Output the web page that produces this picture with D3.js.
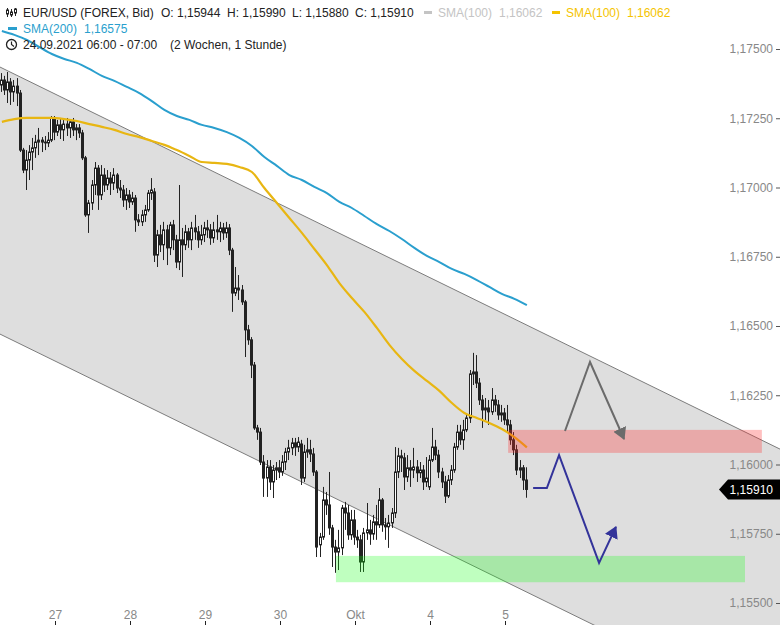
<!DOCTYPE html>
<html><head><meta charset="utf-8">
<script src="https://cdn.jsdelivr.net/npm/d3@7"></script>
<style>body{margin:0;background:#fff}svg{display:block;font-family:"Liberation Sans",Arial,sans-serif}</style>
</head><body><svg id="c" width="780" height="625"></svg>
<script>
// ---- data (hourly EUR/USD candles, 24.09.2021 06:00 -> 05.10.2021 07:00) ----
const opens=[
1.17370,1.17388,1.17352,1.17381,1.17345,1.17366,1.17341,1.17135,1.17063,1.17099,
1.17128,1.17143,1.17164,1.17171,1.17164,1.17161,1.17171,1.17251,1.17200,1.17226,
1.17208,1.17229,1.17215,1.17237,1.17208,1.17215,1.17197,1.17107,1.16901,1.16944,
1.17009,1.17070,1.16973,1.17045,1.17009,1.17034,1.17016,1.17045,1.16998,1.16991,
1.16955,1.16973,1.16948,1.16962,1.16883,1.16876,1.16901,1.16919,1.16980,1.16984,
1.16756,1.16829,1.16793,1.16847,1.16782,1.16865,1.16811,1.16731,1.16811,1.16793,
1.16840,1.16811,1.16854,1.16840,1.16811,1.16829,1.16854,1.16847,1.16818,1.16847,
1.16840,1.16854,1.16836,1.16854,1.16774,1.16619,1.16637,1.16630,1.16587,1.16486,
1.16450,1.16359,1.16132,1.16117,1.16009,1.15951,1.15991,1.15937,1.15980,1.15988,
1.15973,1.16009,1.16045,1.16060,1.16078,1.16063,1.16074,1.15951,1.16045,1.16053,
1.16038,1.15973,1.15710,1.15738,1.15872,1.15854,1.15771,1.15702,1.15684,1.15699,
1.15843,1.15825,1.15746,1.15800,1.15738,1.15728,1.15648,1.15753,1.15764,1.15749,
1.15793,1.15782,1.15872,1.15782,1.15775,1.15789,1.15825,1.15973,1.16031,1.16024,
1.15955,1.15988,1.15980,1.15991,1.15970,1.15980,1.15937,1.15919,1.16016,1.16063,
1.16034,1.15973,1.15937,1.15886,1.15944,1.15980,1.16063,1.16117,1.16089,1.16125,
1.16168,1.16327,1.16334,1.16294,1.16233,1.16197,1.16204,1.16190,1.16233,1.16215,
1.16179,1.16186,1.16161,1.16143,1.16089,1.16053,1.15980,1.15988,1.15944];
const highs=[
1.17413,1.17403,1.17417,1.17395,1.17388,1.17395,1.17352,1.17143,1.17135,1.17153,
1.17179,1.17190,1.17215,1.17182,1.17186,1.17200,1.17258,1.17258,1.17244,1.17251,
1.17244,1.17251,1.17247,1.17251,1.17229,1.17229,1.17208,1.17114,1.16955,1.17027,
1.17092,1.17081,1.17081,1.17070,1.17063,1.17056,1.17070,1.17052,1.17027,1.17009,
1.16998,1.16991,1.16984,1.16973,1.16904,1.16919,1.16937,1.16991,1.17034,1.16998,
1.16847,1.16865,1.16876,1.16865,1.16876,1.16883,1.16829,1.17009,1.16854,1.16865,
1.16854,1.16876,1.16901,1.16861,1.16865,1.16876,1.16883,1.16868,1.16876,1.16901,
1.16876,1.16872,1.16876,1.16868,1.16782,1.16713,1.16684,1.16648,1.16594,1.16504,
1.16460,1.16370,1.16143,1.16132,1.16034,1.16016,1.16016,1.15998,1.16009,1.16016,
1.16034,1.16060,1.16089,1.16096,1.16096,1.16099,1.16089,1.16071,1.16096,1.16089,
1.16060,1.15980,1.15753,1.15919,1.15901,1.15973,1.15782,1.15728,1.15764,1.15854,
1.15865,1.15854,1.15836,1.15836,1.15764,1.15746,1.15771,1.15861,1.15800,1.15818,
1.15854,1.15915,1.15879,1.15807,1.15818,1.15843,1.16063,1.16060,1.16053,1.16042,
1.16034,1.16016,1.16060,1.16016,1.16009,1.15998,1.16027,1.16034,1.16132,1.16089,
1.16053,1.15988,1.15959,1.15962,1.15998,1.16078,1.16143,1.16143,1.16161,1.16179,
1.16341,1.16403,1.16395,1.16312,1.16251,1.16240,1.16233,1.16276,1.16251,1.16233,
1.16215,1.16204,1.16215,1.16161,1.16117,1.16071,1.16016,1.15998,1.15990];
const lows=[
1.17345,1.17334,1.17305,1.17298,1.17309,1.17294,1.17128,1.17052,1.16991,1.17027,
1.17063,1.17107,1.17117,1.17128,1.17135,1.17146,1.17164,1.17171,1.17186,1.17175,
1.17168,1.17186,1.17179,1.17186,1.17171,1.17179,1.17099,1.16894,1.16836,1.16919,
1.16973,1.16919,1.16955,1.16984,1.16991,1.16973,1.16991,1.16980,1.16962,1.16930,
1.16919,1.16926,1.16937,1.16840,1.16861,1.16861,1.16876,1.16912,1.16955,1.16731,
1.16713,1.16767,1.16738,1.16720,1.16756,1.16774,1.16709,1.16702,1.16677,1.16774,
1.16782,1.16774,1.16811,1.16782,1.16793,1.16803,1.16818,1.16793,1.16800,1.16811,
1.16803,1.16811,1.16818,1.16756,1.16551,1.16608,1.16594,1.16576,1.16388,1.16432,
1.16312,1.16125,1.16089,1.15998,1.15883,1.15883,1.15908,1.15879,1.15944,1.15951,
1.15959,1.15980,1.16016,1.16034,1.16031,1.16045,1.15926,1.15937,1.16024,1.16009,
1.15959,1.15666,1.15666,1.15728,1.15818,1.15746,1.15630,1.15609,1.15619,1.15673,
1.15764,1.15728,1.15728,1.15710,1.15699,1.15612,1.15612,1.15728,1.15710,1.15728,
1.15728,1.15771,1.15757,1.15728,1.15699,1.15771,1.15807,1.15951,1.15973,1.15908,
1.15937,1.15919,1.15951,1.15937,1.15951,1.15908,1.15919,1.15908,1.16009,1.16016,
1.15951,1.15915,1.15861,1.15879,1.15926,1.15970,1.16053,1.16071,1.16053,1.16117,
1.16150,1.16287,1.16276,1.16215,1.16132,1.16161,1.16143,1.16179,1.16190,1.16161,
1.16154,1.16143,1.16117,1.16071,1.16034,1.15962,1.15951,1.15908,1.15880];
const closes=[
1.17388,1.17352,1.17381,1.17345,1.17366,1.17341,1.17135,1.17063,1.17099,1.17128,
1.17143,1.17164,1.17171,1.17164,1.17161,1.17171,1.17251,1.17200,1.17226,1.17208,
1.17229,1.17215,1.17237,1.17208,1.17215,1.17197,1.17107,1.16901,1.16944,1.17009,
1.17070,1.16973,1.17045,1.17009,1.17034,1.17016,1.17045,1.16998,1.16991,1.16955,
1.16973,1.16948,1.16962,1.16883,1.16876,1.16901,1.16919,1.16980,1.16991,1.16756,
1.16829,1.16793,1.16847,1.16782,1.16865,1.16811,1.16731,1.16811,1.16793,1.16840,
1.16811,1.16854,1.16840,1.16811,1.16829,1.16854,1.16847,1.16818,1.16847,1.16840,
1.16854,1.16836,1.16854,1.16774,1.16619,1.16637,1.16630,1.16587,1.16486,1.16450,
1.16359,1.16132,1.16117,1.16009,1.15951,1.15991,1.15937,1.15980,1.15988,1.15973,
1.16009,1.16045,1.16060,1.16078,1.16063,1.16081,1.15951,1.16045,1.16053,1.16038,
1.15973,1.15702,1.15738,1.15872,1.15854,1.15771,1.15702,1.15684,1.15699,1.15843,
1.15825,1.15746,1.15800,1.15738,1.15728,1.15648,1.15753,1.15764,1.15749,1.15793,
1.15782,1.15872,1.15782,1.15775,1.15789,1.15825,1.15973,1.16031,1.16024,1.15955,
1.15988,1.15980,1.15991,1.15970,1.15980,1.15937,1.15951,1.16016,1.16063,1.16034,
1.15973,1.15937,1.15886,1.15944,1.15980,1.16063,1.16117,1.16089,1.16125,1.16168,
1.16327,1.16334,1.16294,1.16233,1.16197,1.16204,1.16190,1.16233,1.16215,1.16179,
1.16186,1.16161,1.16143,1.16089,1.16053,1.15980,1.15988,1.15944,1.15910];

// moving averages, read at every 4th candle
const smaIdx=[0,4,8,12,16,20,24,28,32,36,40,44,48,52,56,60,64,68,72,76,80,84,88,92,96,100,
104,108,112,116,120,124,128,132,136,140,144,148,152,156,160,164,168];
const sma200=[1.17565,1.17551,1.17533,1.17507,1.17482,1.17464,1.17450,1.17428,1.17403,1.17385,
1.17363,1.17341,1.17312,1.17280,1.17258,1.17244,1.17226,1.17215,1.17200,1.17179,
1.17150,1.17110,1.17078,1.17045,1.17027,1.17002,1.16980,1.16948,1.16926,1.16897,
1.16868,1.16843,1.16814,1.16782,1.16753,1.16731,1.16706,1.16688,1.16666,1.16641,
1.16616,1.16598,1.16575];
const sma100=[1.17237,1.17247,1.17251,1.17251,1.17251,1.17247,1.17240,1.17229,1.17219,1.17208,
1.17193,1.17182,1.17168,1.17154,1.17135,1.17114,1.17092,1.17089,1.17085,1.17074,
1.17056,1.16998,1.16944,1.16890,1.16836,1.16778,1.16720,1.16655,1.16601,1.16551,
1.16493,1.16432,1.16381,1.16338,1.16302,1.16266,1.16222,1.16186,1.16168,1.16150,
1.16128,1.16099,1.16062];

// axis ticks
const xTickIdx=[17,41,65,89,113,137,161];
const xTickLabels=["27","28","29","30","Okt","4","5"];
const yTickValues=[1.155,1.1575,1.16,1.1625,1.165,1.1675,1.17,1.1725,1.175];

// drawings: trend channel, zones, scenario arrows (candle index / price)
const channelIdx=[-1,250];
const channelUpper=[1.17437,1.16050];
const channelLower=[1.16473,1.15086];
const redZoneIdx=[162,243.2], redZonePrice=[1.16042,1.16125];
const greenZoneIdx=[106.9,237.8], greenZonePrice=[1.15575,1.15670];
const greyArrowIdx=[180.2,188.2,199.1], greyArrowPrice=[1.16121,1.16370,1.16092];
const blueArrowIdx=[170,174.4,178.3,191.1,196.5], blueArrowPrice=[1.15915,1.15915,1.16034,1.15645,1.15775];

// ---- scales ----
const svg=d3.select("#c");
const x=d3.scaleLinear().domain([0,168]).range([1.875,526.875]);
const y=d3.scaleLinear().domain([1.155,1.175]).range([603,49]);
const loc=d3.formatLocale({decimal:",",thousands:".",grouping:[3],currency:["","€"]});
const fmt=loc.format(".5f");

svg.append("rect").attr("width",780).attr("height",625).attr("fill","#fff");

// channel fill
const chPts=[[channelIdx[0],channelUpper[0]],[channelIdx[1],channelUpper[1]],[channelIdx[1],channelLower[1]],[channelIdx[0],channelLower[0]]];
svg.append("path").attr("d",d3.line().x(d=>x(d[0])).y(d=>y(d[1]))(chPts)+"Z").attr("fill","#dedede");
[channelUpper,channelLower].forEach(c=>{
  svg.append("line").attr("x1",x(channelIdx[0])).attr("y1",y(c[0])).attr("x2",x(channelIdx[1])).attr("y2",y(c[1]))
   .attr("stroke","#7c7c7c").attr("stroke-width",1);
});

// candles
const candles=closes.map((c,i)=>({i,o:opens[i],h:highs[i],l:lows[i],c}));
const cg=svg.append("g");
candles.forEach(d=>{
  const r=Math.round(x(d.i));
  cg.append("line").attr("x1",r-0.5).attr("x2",r-0.5).attr("y1",y(d.h)).attr("y2",y(d.l)).attr("stroke","#222").attr("stroke-width",1);
  const top=y(Math.max(d.o,d.c)), bot=y(Math.min(d.o,d.c));
  cg.append("rect").attr("x",r-1.5).attr("width",2).attr("y",top).attr("height",Math.max(0.6,bot-top))
    .attr("fill",d.c<d.o?"#222":"#fff").attr("stroke","#222").attr("stroke-width",1);
});

// SMAs
const smaLine=d3.line().x(d=>x(d[0])).y(d=>y(d[1])).curve(d3.curveMonotoneX);
svg.append("path").attr("d",smaLine(smaIdx.map((k,j)=>[k,sma200[j]]))).attr("fill","none").attr("stroke","#2a9fce").attr("stroke-width",2);
svg.append("path").attr("d",smaLine(smaIdx.map((k,j)=>[k,sma100[j]]))).attr("fill","none").attr("stroke","#e8b612").attr("stroke-width",2.2);

// zones
svg.append("rect").attr("x",x(redZoneIdx[0])).attr("width",x(redZoneIdx[1])-x(redZoneIdx[0]))
  .attr("y",y(redZonePrice[1])).attr("height",y(redZonePrice[0])-y(redZonePrice[1])).attr("fill","rgb(255,45,45)").attr("fill-opacity",0.3);
svg.append("rect").attr("x",x(greenZoneIdx[0])).attr("width",x(greenZoneIdx[1])-x(greenZoneIdx[0]))
  .attr("y",y(greenZonePrice[1])).attr("height",y(greenZonePrice[0])-y(greenZonePrice[1])).attr("fill","rgb(20,255,20)").attr("fill-opacity",0.27);

// arrows
const defs=svg.append("defs");
function marker(id,col){
  defs.append("marker").attr("id",id).attr("viewBox","0 -7 12 14").attr("refX",11).attr("refY",0)
   .attr("markerWidth",12).attr("markerHeight",14).attr("markerUnits","userSpaceOnUse").attr("orient","auto")
   .append("path").attr("d","M0,-7L12,0L0,7Z").attr("fill",col);
}
marker("mg","#6b6b6b"); marker("mb","#33339a");
const aLine=d3.line().x(d=>x(d[0])).y(d=>y(d[1]));
svg.append("path").attr("d",aLine(greyArrowIdx.map((k,j)=>[k,greyArrowPrice[j]]))).attr("fill","none")
  .attr("stroke","#6b6b6b").attr("stroke-width",2).attr("marker-end","url(#mg)");
svg.append("path").attr("d",aLine(blueArrowIdx.map((k,j)=>[k,blueArrowPrice[j]]))).attr("fill","none")
  .attr("stroke","#33339a").attr("stroke-width",2).attr("marker-end","url(#mb)");

// y axis
const ya=svg.append("g").attr("transform","translate(780,0)")
  .call(d3.axisLeft(y).tickValues(yTickValues).tickFormat(fmt).tickSize(4).tickPadding(3));
ya.select(".domain").remove();
ya.selectAll("line").attr("stroke","#555");
ya.selectAll("text").attr("fill","#888").attr("font-size",12).attr("font-family","Liberation Sans, Arial, sans-serif");

// x axis
const xa=svg.append("g").attr("transform","translate(0,625)")
  .call(d3.axisTop(x).tickValues(xTickIdx).tickFormat((d,i)=>xTickLabels[i]).tickSize(4).tickPadding(2));
xa.select(".domain").remove();
xa.selectAll("line").attr("stroke","#222");
xa.selectAll("text").attr("fill","#888").attr("font-size",12).attr("font-family","Liberation Sans, Arial, sans-serif");

// last price label
const lastC=closes[closes.length-1], ly=y(lastC);
svg.append("path").attr("d",`M719,${ly}L728,${ly-10}L780,${ly-10}L780,${ly+10}L728,${ly+10}Z`).attr("fill","#000");
svg.append("text").attr("x",773).attr("y",ly).attr("dy","0.35em").attr("text-anchor","end")
  .attr("fill","#fff").attr("font-size",12).text(fmt(lastC));

// legend
const lg=svg.append("g").attr("font-size",12);
function t(xp,yp,s,col){lg.append("text").attr("x",xp).attr("y",yp).attr("fill",col).text(s);}
// candle icon
[[7,8,17,10,14],[11,9,17,12,15],[15,8,16,9,13]].forEach(b=>{
  lg.append("line").attr("x1",b[0]+0.5).attr("x2",b[0]+0.5).attr("y1",b[1]).attr("y2",b[2]).attr("stroke","#222").attr("stroke-width",1);
  lg.append("rect").attr("x",b[0]-0.5).attr("y",b[3]).attr("width",2).attr("height",b[4]-b[3]).attr("fill","#fff").attr("stroke","#222").attr("stroke-width",1);
});
t(23,17,"EUR/USD (FOREX, Bid)","#222");
t(161,17,"O: "+fmt(opens[168]),"#222");
t(227,17,"H: "+fmt(highs[168]),"#222");
t(292,17,"L: "+fmt(lows[168]),"#222");
t(355,17,"C: "+fmt(closes[168]),"#222");
lg.append("rect").attr("x",424).attr("y",11).attr("width",8).attr("height",3).attr("fill","#c4c4c4");
t(438,17,"SMA(100)","#c4c4c4"); t(499,17,fmt(sma100[sma100.length-1]),"#c4c4c4");
lg.append("rect").attr("x",552).attr("y",11).attr("width",8).attr("height",3).attr("fill","#f5c400");
t(566,17,"SMA(100)","#f5c400"); t(627,17,fmt(sma100[sma100.length-1]),"#f5c400");
lg.append("rect").attr("x",8).attr("y",27).attr("width",9).attr("height",3).attr("fill","#2a9fce");
t(23,33,"SMA(200)","#2a9fce"); t(84,33,fmt(sma200[sma200.length-1]),"#2a9fce");
// clock icon
lg.append("circle").attr("cx",11.5).attr("cy",44.5).attr("r",5).attr("fill","none").attr("stroke","#222").attr("stroke-width",1.3);
lg.append("path").attr("d","M11.5,41.5L11.5,44.5L14,46.5").attr("fill","none").attr("stroke","#222").attr("stroke-width",1.2);
t(23,49,"24.09.2021 06:00 - 07:00","#222");
t(170,49,"(2 Wochen, 1 Stunde)","#222");
</script></body></html>
